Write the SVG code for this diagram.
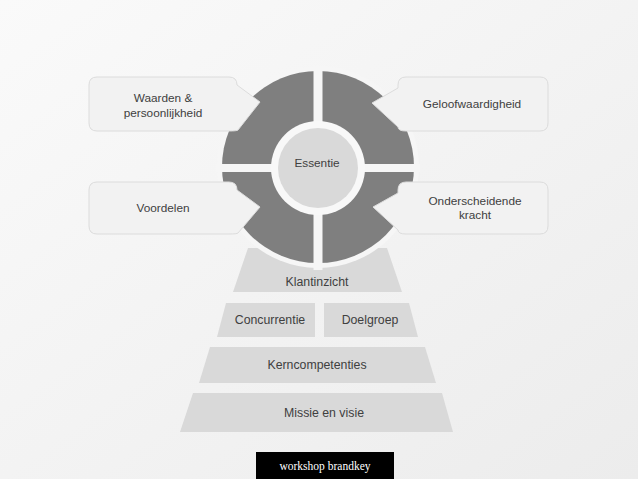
<svg xmlns="http://www.w3.org/2000/svg" width="638" height="479" viewBox="0 0 638 479">
<defs>
<linearGradient id="bg" x1="0" y1="0" x2="1" y2="1">
<stop offset="0" stop-color="#fafafa"/>
<stop offset="1" stop-color="#ececec"/>
</linearGradient>
</defs>
<style>
.t{font-family:"Liberation Sans",Arial,sans-serif;font-size:11.8px;fill:#404040;text-anchor:middle}
.p{font-size:12.3px}
.call{fill:#f2f2f2;stroke:#dcdcdc;stroke-width:1}
.tier{fill:#d9d9d9}
.quad{fill:#7f7f7f}
</style>
<rect width="638" height="479" fill="url(#bg)"/>
<g id="pyramid">
<g id="klantinzicht"><polygon class="tier" points="248,248 387,248 402,292 233,292"/><text class="t p" x="317" y="286">Klantinzicht</text></g>
<g id="concurrentie"><polygon class="tier" points="226,303 315,303 315,337 217,337"/><text class="t p" x="270" y="324">Concurrentie</text></g>
<g id="doelgroep"><polygon class="tier" points="324,303 409,303 418,337 324,337"/><text class="t p" x="370" y="324">Doelgroep</text></g>
<g id="kerncompetenties"><polygon class="tier" points="210,347 425,347 436,383 199,383"/><text class="t p" x="317" y="369">Kerncompetenties</text></g>
<g id="missie"><polygon class="tier" points="193,393 442,393 453,432 180,432"/><text class="t p" x="324" y="417">Missie en visie</text></g>
</g>
<g id="ring">
<circle cx="318" cy="167" r="101" fill="#f6f6f6"/>
<circle class="quad" cx="318" cy="167" r="96"/>
<rect x="313.5" y="66" width="9" height="204" fill="#f6f6f6"/>
<rect x="216" y="164" width="204" height="8" fill="#f6f6f6"/>
</g>
<g id="essentie">
<circle cx="318" cy="168" r="47" fill="#f8f8f8"/>
<circle cx="318" cy="168" r="40" fill="#d9d9d9"/>
<text class="t" x="317" y="167">Essentie</text>
</g>
<g id="waarden">
<path class="call" d="M97,77 H229 Q237,77 237,85 L260,102 L238,130 Q237,131 229,131 H97 Q89,131 89,123 V85 Q89,77 97,77 Z"/>
<text class="t" x="163" y="102">Waarden &amp;</text>
<text class="t" x="163" y="117">persoonlijkheid</text>
</g>
<g id="voordelen">
<path class="call" d="M97,182 H229 Q237,182 237,190 L260,207 L238,233 Q237,234 229,234 H97 Q89,234 89,226 V190 Q89,182 97,182 Z"/>
<text class="t" x="163" y="212">Voordelen</text>
</g>
<g id="geloofwaardigheid">
<path class="call" d="M406,77 H540 Q548,77 548,85 V123 Q548,131 540,131 H406 Q398,131 398,127 L372,103 L398,88 V85 Q398,77 406,77 Z"/>
<text class="t" x="472" y="108">Geloofwaardigheid</text>
</g>
<g id="onderscheidende">
<path class="call" d="M406,182 H540 Q548,182 548,190 V226 Q548,234 540,234 H406 Q398,234 398,230 L373,207 L398,193 V190 Q398,182 406,182 Z"/>
<text class="t" x="475" y="205">Onderscheidende</text>
<text class="t" x="475" y="219">kracht</text>
</g>
<g id="footer">
<rect x="256" y="452" width="138" height="27" fill="#000000"/>
<text x="325" y="470" font-family="'Liberation Serif','Times New Roman',serif" font-size="11.5" fill="#ffffff" text-anchor="middle">workshop brandkey</text>
</g>
</svg>
